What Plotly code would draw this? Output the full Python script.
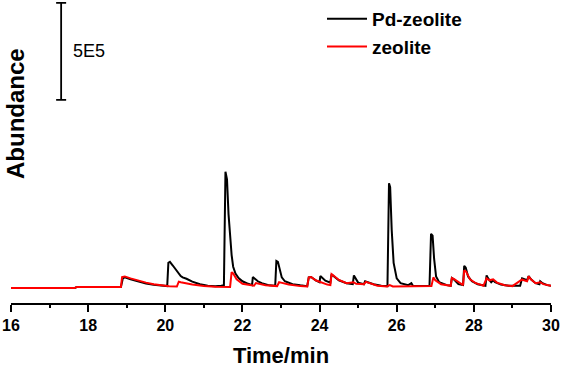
import plotly.graph_objects as go

# Chromatogram data (time in min, abundance in counts)
pd_time = [16.0, 17.65, 17.70, 18.85, 18.90, 18.95, 19.1, 19.3, 19.5, 19.7, 19.9, 20.05,
           20.08, 20.12, 20.2, 20.3, 20.4, 20.45, 20.55, 20.7, 20.9, 21.1, 21.3, 21.45, 21.52,
           21.56, 21.60, 21.64, 21.68, 21.72, 21.76, 21.82, 21.9, 22.0, 22.15, 22.25,
           22.27, 22.32, 22.4, 22.5, 22.7, 22.85, 22.88, 22.92, 22.97, 23.02, 23.1, 23.3,
           23.5, 23.68, 23.72, 23.78, 23.9, 24.0, 24.02, 24.06, 24.15, 24.28, 24.31, 24.36,
           24.5, 24.7, 24.86, 24.89, 24.93, 25.0, 25.15, 25.18, 25.25, 25.4, 25.6, 25.76,
           25.80, 25.83, 25.87, 25.92, 26.0, 26.1, 26.3, 26.38, 26.42, 26.6, 26.85, 26.89,
           26.93, 26.97, 27.02, 27.1, 27.3, 27.4, 27.43, 27.48, 27.6, 27.72, 27.75, 27.79,
           27.85, 27.95, 28.1, 28.3, 28.33, 28.37, 28.45, 28.5, 28.55, 28.7, 28.9, 29.2,
           29.25, 29.3, 29.38, 29.42, 29.48, 29.6, 29.7, 29.72, 29.78, 29.9, 30.0]
pd_abund = [0, 0, 5000, 5000, 50000, 55000, 45000, 33000, 24000, 17000, 12000, 10000,
            130000, 135000, 115000, 85000, 62000, 55000, 48000, 33000, 20000, 12000, 9000, 12000, 14000,
            600000, 560000, 380000, 260000, 170000, 110000, 75000, 52000, 35000, 22000, 15000,
            57000, 48000, 35000, 25000, 14000, 12000, 140000, 135000, 90000, 55000, 35000, 20000,
            14000, 10000, 55000, 57000, 40000, 30000, 62000, 55000, 38000, 28000, 70000, 62000,
            40000, 25000, 20000, 65000, 50000, 28000, 20000, 35000, 30000, 20000, 12000, 10000,
            540000, 520000, 300000, 130000, 50000, 25000, 15000, 25000, 12000, 10000, 12000, 280000,
            270000, 150000, 60000, 30000, 15000, 12000, 52000, 45000, 20000, 15000, 115000, 105000,
            60000, 35000, 20000, 12000, 65000, 50000, 30000, 40000, 30000, 18000, 12000, 12000,
            50000, 45000, 40000, 62000, 45000, 25000, 20000, 35000, 25000, 15000, 12000]

ze_time = [16.0, 17.65, 17.70, 18.85, 18.88, 18.95, 19.1, 19.3, 19.5, 19.7, 19.9, 20.1,
           20.3, 20.35, 20.40, 20.5, 20.7, 21.0, 21.3, 21.68, 21.72, 21.76, 21.85, 22.0,
           22.2, 22.3, 22.35, 22.4, 22.6, 22.9, 22.95, 23.0, 23.2, 23.5, 23.68, 23.72,
           23.78, 23.9, 24.05, 24.2, 24.28, 24.31, 24.36, 24.5, 24.7, 24.88, 24.95, 25.15,
           25.2, 25.3, 25.5, 25.75, 25.82, 25.9, 26.3, 26.5, 26.9, 26.95, 27.0, 27.15,
           27.4, 27.43, 27.5, 27.65, 27.72, 27.75, 27.8, 27.9, 28.05, 28.25, 28.33, 28.4,
           28.5, 28.6, 28.8, 29.0, 29.25, 29.3, 29.38, 29.42, 29.48, 29.6, 29.72, 29.8, 30.0]
ze_abund = [0, 0, 5000, 5000, 57000, 60000, 50000, 38000, 28000, 20000, 13000, 9000,
            8000, 33000, 30000, 25000, 18000, 11000, 7000, 6000, 82000, 75000, 45000, 22000,
            14000, 12000, 26000, 24000, 15000, 10000, 30000, 28000, 18000, 10000, 8000, 55000,
            57000, 40000, 28000, 18000, 15000, 72000, 65000, 42000, 25000, 30000, 22000, 20000,
            32000, 25000, 12000, 8000, 15000, 8000, 8000, 9000, 10000, 55000, 40000, 20000,
            12000, 52000, 45000, 25000, 15000, 92000, 85000, 45000, 25000, 12000, 50000, 40000,
            45000, 28000, 15000, 10000, 45000, 40000, 35000, 60000, 45000, 25000, 30000, 20000, 12000]

series_names = ["Pd-zeolite", "zeolite"]
series_colors = ["#000000", "#ff0000"]

x_ticks = [16, 18, 20, 22, 24, 26, 28, 30]
scale_value = 5e5
scale_label = "5E5"
scale_x = 17.3
scale_top = 1.47e6

FONT = "Arial, Liberation Sans, sans-serif"

fig = go.Figure()
fig.add_trace(go.Scatter(x=pd_time, y=pd_abund, mode="lines", name=f"<b>{series_names[0]}</b>",
                         line=dict(color=series_colors[0], width=2)))
fig.add_trace(go.Scatter(x=ze_time, y=ze_abund, mode="lines", name=f"<b>{series_names[1]}</b>",
                         line=dict(color=series_colors[1], width=2)))

# scale bar drawn as an error bar
fig.add_trace(go.Scatter(x=[scale_x], y=[scale_top - scale_value / 2], mode="markers",
                         marker=dict(size=1, color="rgba(0,0,0,0)"), showlegend=False,
                         hoverinfo="skip",
                         error_y=dict(type="constant", value=scale_value / 2, color="black",
                                      thickness=1.8, width=5)))
fig.add_annotation(x=scale_x, y=scale_top - scale_value / 2, xref="x", yref="y",
                   text=scale_label, showarrow=False, xanchor="left", xshift=10,
                   font=dict(family=FONT, size=18, color="black"))

fig.add_annotation(x=(15 - 11) / 540, y=1 - 114 / 303, xref="paper", yref="paper",
                   text="<b>Abundance</b>", textangle=-90, showarrow=False,
                   xanchor="center", yanchor="middle",
                   font=dict(family=FONT, size=24, color="black"))

fig.update_layout(
    width=561, height=373,
    margin=dict(l=11, r=10, t=0, b=70),
    paper_bgcolor="white", plot_bgcolor="white",
    font=dict(family=FONT, color="black"),
    showlegend=True,
    legend=dict(x=(322 - 11) / 540, y=1, itemwidth=40,
                xanchor="left", yanchor="top", bgcolor="rgba(0,0,0,0)",
                font=dict(family=FONT, size=19, color="black"),
                traceorder="normal"),
    xaxis=dict(range=[16, 30], tickvals=x_ticks, ticktext=[f"<b>{t}</b>" for t in x_ticks],
               showline=True, linecolor="black", linewidth=2,
               ticks="outside", ticklen=7, tickwidth=2, tickcolor="black",
               minor=dict(dtick=1, ticks="outside", ticklen=3, tickwidth=2, tickcolor="black"),
               showgrid=False, zeroline=False, automargin=False,
               tickfont=dict(family=FONT, size=16, color="black"),
               title=dict(text="<b>Time/min</b>", font=dict(family=FONT, size=22, color="black"),
                          standoff=14)),
    yaxis=dict(range=[-7.7e4, 1.485e6], visible=False),
)

fig.write_html("out.html", config={"displayModeBar": False},
               post_script="document.body.style.margin='0';document.body.style.overflow='hidden';")
